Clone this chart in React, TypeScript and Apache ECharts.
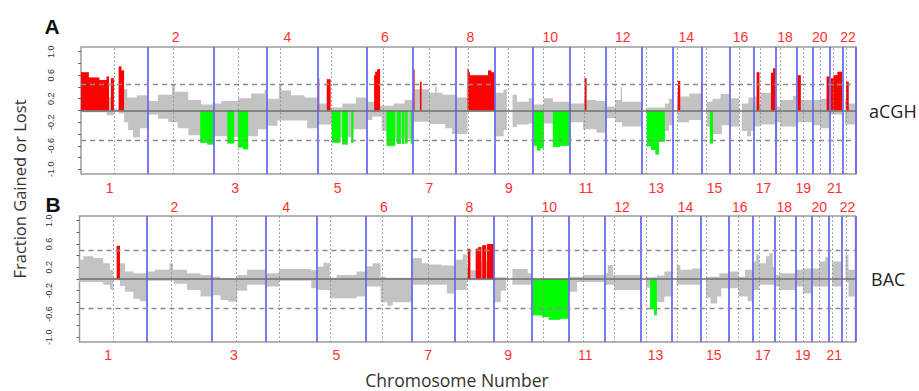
import React, { useEffect, useRef } from "react";
import * as echarts from "echarts";

// ---------- data ----------
const CHROMOSOMES = ["1","2","3","4","5","6","7","8","9","10","11","12","13","14","15","16","17","18","19","20","21","22"];
const CHROM_LENGTH_MB = [249, 243, 198, 191, 181, 171, 159, 146, 141, 136, 135, 134, 115, 107, 103, 90, 81, 78, 59, 63, 48, 51];
const CENTROMERE_MB = [125, 93, 91, 50, 48, 60, 60, 45, 49, 40, 53, 35, 17, 17, 18, 36, 24, 17, 26, 28, 14, 16];

const Y_TICK_VALUES = [-1, -0.8, -0.6, -0.4, -0.2, 0, 0.2, 0.4, 0.6, 0.8, 1];
const Y_LABEL_VALUES = [-1, -0.6, -0.2, 0.2, 0.6, 1];

const PANEL_LETTERS = ["A", "B"];
const PANEL_NAMES = ["aCGH", "BAC"];
const GAIN_THRESHOLD = [0.45, 0.5];
const LOSS_THRESHOLD = [-0.5, -0.5];

// per chromosome: [start (Mb within chromosome), fraction] steps
const GAIN_ACGH = [
  [[0,0.65],[29,0.56],[68,0.52],[95,0.58],[104,0.22],[111,0.55],[122,0.02],[140,0.75],[150,0.68],[160,0.36],[172,0.22],[207,0.26]],
  [[0,0.16],[37,0.27],[89,0.44],[100,0.32],[149,0.18],[197,0.1]],
  [[0,0.12],[30,0.16],[91,0.21],[140,0.29],[190,0.35]],
  [[0,0.2],[45,0.43],[55,0.34],[90,0.26],[140,0.22]],
  [[0,0.55],[4,0.12],[32,0.53],[46,0.05],[90,0.12],[140,0.22]],
  [[0,0.15],[27,0.6],[31,0.66],[38,0.7],[49,0.08],[100,0.12],[140,0.18]],
  [[0,0.7],[6,0.36],[26,0.49],[32,0.36],[60,0.3],[82,0.4],[88,0.3],[110,0.27]],
  [[0,0.22],[44,0.71],[49,0.65],[53,0.6],[120,0.68],[132,0.65]],
  [[0,0.3],[32,0.36],[44,0.01],[65,0.27],[82,0.15],[125,0.21]],
  [[0,0.1],[40,0.21],[74,0.15]],
  [[0,0.12],[53,0.2],[56,0.55],[63,0.18],[100,0.16]],
  [[0,0.07],[35,0.18],[55,0.4],[60,0.15]],
  [[0,0],[18,0.05],[85,0.12],[100,0.2]],
  [[0,0],[17,0.2],[19,0.5],[27,0.24],[60,0.29],[104,0.49]],
  [[0,0],[18,0.15],[40,0.2],[70,0.28]],
  [[0,0.21],[36,0],[46,0.12],[70,0.22]],
  [[0,0.24],[11,0.65],[21,0.1],[25,0.3],[64,0.64],[72,0.72]],
  [[0,0.15],[6,0.07],[17,0.18],[65,0.25]],
  [[0,0.56],[4,0.6],[16,0.18]],
  [[0,0.18],[28,0.2],[53,0.58]],
  [[0,0],[6,0.55],[15,0.6],[30,0.66]],
  [[0,0],[10,0.2],[14,0.49],[24,0.12]],
];
const LOSS_ACGH = [
  [[0,-0.03],[95,-0.08],[122,0],[140,-0.05],[160,-0.2],[175,-0.33],[193,-0.46],[219,-0.3]],
  [[0,-0.07],[37,-0.14],[75,-0.2],[110,-0.3],[150,-0.42],[194,-0.55],[220,-0.58]],
  [[0,-0.44],[52,-0.56],[77,-0.45],[91,-0.63],[110,-0.66],[129,-0.44],[165,-0.32]],
  [[0,-0.26],[40,-0.17],[150,-0.3]],
  [[0,-0.24],[48,-0.3],[51,-0.55],[83,-0.45],[89,-0.58],[110,-0.45],[123,-0.55],[131,-0.32]],
  [[0,-0.16],[20,-0.1],[55,-0.35],[73,-0.6],[105,-0.48],[111,-0.57],[126,-0.48],[130,-0.57],[139,-0.48],[142,-0.56],[151,-0.48],[163,-0.56]],
  [[0,-0.19],[60,-0.23],[120,-0.3],[145,-0.4]],
  [[0,-0.4],[44,-0.02]],
  [[0,-0.44],[32,-0.33],[44,-0.01],[65,-0.28],[82,-0.24],[125,-0.22]],
  [[0,-0.3],[4,-0.6],[15,-0.68],[28,-0.64],[40,-0.22],[74,-0.62],[100,-0.6]],
  [[0,-0.2],[50,-0.32],[100,-0.38]],
  [[0,-0.13],[35,-0.2],[60,-0.27]],
  [[0,0],[18,-0.61],[34,-0.67],[50,-0.75],[63,-0.53],[85,-0.35],[100,-0.25]],
  [[0,0],[17,-0.2],[60,-0.16]],
  [[0,0],[18,-0.27],[30,-0.56],[42,-0.4],[75,-0.25]],
  [[0,-0.27],[36,0],[46,-0.35],[65,-0.44],[80,-0.35]],
  [[0,-0.27],[22,-0.24]],
  [[0,-0.56],[6,-0.2],[17,-0.27]],
  [[0,-0.2]],
  [[0,-0.25],[28,-0.3]],
  [[0,0],[6,-0.07]],
  [[0,0],[10,-0.24]],
];
const GAIN_BAC = [
  [[0,0.33],[14,0.39],[51,0.36],[88,0.27],[113,0.16],[125,0.02],[138,0.57],[150,0.27],[169,0.13],[200,0.1]],
  [[0,0.13],[30,0.16],[85,0.27],[98,0.16],[150,0.1],[200,0.07]],
  [[0,0.04],[31,0.01],[93,0.07],[130,0.16]],
  [[0,0.1],[50,0.17],[170,0.15]],
  [[0,0.21],[24,0.28],[48,0.02],[73,0.07],[147,0.13]],
  [[0,0.22],[25,0.27],[55,0.04],[75,0.02]],
  [[0,0.36],[37,0.27],[62,0.25],[110,0.23]],
  [[0,0.33],[30,0.42],[45,0.2],[49,0.52],[58,0.15],[78,0.52],[88,0.55],[99,0.3],[102,0.58],[117,0.3],[120,0.6]],
  [[0,0.03],[45,0],[68,0.17],[125,0.1]],
  [[0,0.01]],
  [[0,0.04],[53,0.07]],
  [[0,0.1],[10,0.24],[30,0.07]],
  [[0,0],[18,0.03],[58,0.06],[86,0.13]],
  [[0,0],[17,0.24],[30,0.16],[75,0.18]],
  [[0,0],[18,0.04],[68,0.1]],
  [[0,0.13],[36,0.04],[60,0.16]],
  [[0,0.3],[11,0.42],[23,0.27],[48,0.39],[60,0.44],[73,0.2]],
  [[0,0.07],[17,0.1]],
  [[0,0.16],[26,0.18]],
  [[0,0.18],[28,0.3],[50,0.38]],
  [[0,0],[13,0.3]],
  [[0,0],[14,0.42],[25,0.16]],
];
const LOSS_BAC = [
  [[0,-0.05],[88,-0.1],[113,-0.18],[125,-0.02],[150,-0.12],[169,-0.22],[200,-0.34],[224,-0.38]],
  [[0,-0.03],[100,-0.08],[150,-0.19],[200,-0.3]],
  [[0,-0.28],[31,-0.36],[60,-0.39],[93,-0.2],[130,-0.1]],
  [[0,-0.13],[50,-0.03],[170,-0.16]],
  [[0,-0.19],[48,-0.33],[147,-0.3]],
  [[0,-0.13],[55,-0.4],[80,-0.46],[100,-0.4]],
  [[0,-0.1],[130,-0.25]],
  [[0,-0.19],[45,-0.02]],
  [[0,-0.4],[25,-0.2],[45,0],[68,-0.1]],
  [[0,-0.62],[37,-0.65],[62,-0.7],[105,-0.68]],
  [[0,-0.22],[31,-0.05]],
  [[0,-0.1],[35,-0.19]],
  [[0,0],[18,-0.15],[33,-0.52],[48,-0.62],[58,-0.4],[86,-0.3]],
  [[0,0],[17,-0.1]],
  [[0,0],[18,-0.32],[35,-0.42],[60,-0.3],[75,-0.16]],
  [[0,-0.16],[36,-0.3],[70,-0.38]],
  [[0,-0.19],[23,-0.1]],
  [[0,-0.13],[17,-0.19]],
  [[0,-0.13],[26,-0.25]],
  [[0,-0.13]],
  [[0,0],[13,-0.13]],
  [[0,0],[14,-0.05],[25,-0.3]],
];

// ---------- derived ----------
const STARTS: number[] = [];
CHROM_LENGTH_MB.reduce((acc, l) => { STARTS.push(acc); return acc + l; }, 0);
const GENOME_MB = CHROM_LENGTH_MB.reduce((a, b) => a + b, 0);
const ENDS = STARTS.map((s, i) => s + CHROM_LENGTH_MB[i]);
const CENTRO_POS = STARTS.map((s, i) => s + CENTROMERE_MB[i]);
const LABEL_SHIFT_MB = 33;
const LABEL_POS = STARTS.map((s, i) => s + CHROM_LENGTH_MB[i] / 2 - LABEL_SHIFT_MB);

function buildProfile(profile: number[][][]): number[][] {
  const out: number[][] = [];
  profile.forEach((segs, c) => {
    const s = STARTS[c];
    segs.forEach(([p, v]) => out.push([s + p, v]));
    out.push([s + CHROM_LENGTH_MB[c], segs[segs.length - 1][1]]);
  });
  return out;
}

const PROFILES = [
  { gain: buildProfile(GAIN_ACGH), loss: buildProfile(LOSS_ACGH) },
  { gain: buildProfile(GAIN_BAC), loss: buildProfile(LOSS_BAC) },
];

function labelFor(v: number): string {
  let best = 0;
  let bd = Infinity;
  LABEL_POS.forEach((p, i) => {
    const d = Math.abs(p - v);
    if (d < bd) { bd = d; best = i; }
  });
  return CHROMOSOMES[best];
}

export default function App() {
  const ref = useRef<HTMLDivElement>(null);

  useEffect(() => {
    if (!ref.current) return;
    const chart = echarts.init(ref.current, null, { renderer: "svg" });

    const layout = [
      { left: 81, top: 47, width: 775, height: 127, topMargin: 3, bottomMargin: 7 },
      { left: 79.5, top: 216, width: 776, height: 126, topMargin: 2, bottomMargin: 6 },
    ];
    const numFont = "Liberation Sans, Arial, sans-serif";
    const titleFont = "Open Sans, Liberation Sans, sans-serif";

    const grid: any[] = [];
    const xAxis: any[] = [];
    const yAxis: any[] = [];
    const series: any[] = [];

    layout.forEach((L, gi) => {
      grid.push({
        left: L.left, top: L.top, width: L.width, height: L.height,
        show: true, borderColor: "#9c9c9c", borderWidth: 1.5, backgroundColor: "transparent",
      });
      const oddPos = LABEL_POS.filter((_, i) => i % 2 === 0);
      const evenPos = LABEL_POS.filter((_, i) => i % 2 === 1);
      const baseX = {
        gridIndex: gi, type: "value", min: 0, max: GENOME_MB,
        axisLine: { show: false }, axisTick: { show: false }, splitLine: { show: false },
      };
      xAxis.push({
        ...baseX, position: "bottom",
        axisLabel: {
          customValues: oddPos, formatter: (v: number) => labelFor(v),
          color: "#ff3030", fontSize: 14, fontFamily: numFont, align: "left", margin: L.bottomMargin,
        },
      });
      xAxis.push({
        ...baseX, position: "top",
        axisLabel: {
          customValues: evenPos, formatter: (v: number) => labelFor(v),
          color: "#ff3030", fontSize: 14, fontFamily: numFont, align: "left", margin: L.topMargin,
        },
      });
      yAxis.push({
        gridIndex: gi, type: "value", min: -1.08, max: 1.08,
        axisLine: { show: false },
        splitLine: { show: false },
        axisTick: { show: true, length: 3, customValues: Y_TICK_VALUES, lineStyle: { color: "#666", width: 1 } },
        axisLabel: {
          customValues: Y_LABEL_VALUES, rotate: 90, formatter: (v: number) => v.toFixed(1),
          fontSize: 9, color: "#333", fontFamily: numFont, margin: 26,
        },
      });

      const prof = PROFILES[gi];
      const up = GAIN_THRESHOLD[gi];
      const dn = LOSS_THRESHOLD[gi];
      const red = prof.gain.map(([x, v]) => [x, v >= up ? v : 0]);
      const green = prof.loss.map(([x, v]) => [x, v <= dn ? v : 0]);
      const common = {
        type: "line", xAxisIndex: gi * 2, yAxisIndex: gi, step: "end",
        symbol: "none", showSymbol: false, silent: true,
        lineStyle: { width: 0 },
      };
      const markData: any[] = [];
      ENDS.forEach((e) => markData.push({ xAxis: e, lineStyle: { color: "#6b6bf5", width: 1.8, type: "solid" } }));
      CENTRO_POS.forEach((c) => markData.push({ xAxis: c, lineStyle: { color: "#8a8a8a", width: 1, type: [1.5, 2.5] } }));
      markData.push({ yAxis: up, lineStyle: { color: "#8c8c8c", width: 1.3, type: [5, 4] } });
      markData.push({ yAxis: dn, lineStyle: { color: "#8c8c8c", width: 1.3, type: [5, 4] } });
      markData.push({ yAxis: 0, lineStyle: { color: "#6e6e6e", width: 1.6, type: "solid" } });

      series.push({ ...common, name: `gain${gi}`, data: prof.gain, z: 2, areaStyle: { color: "#c3c3c3", opacity: 1 },
        markLine: { silent: true, symbol: ["none", "none"], label: { show: false }, data: markData } });
      series.push({ ...common, name: `loss${gi}`, data: prof.loss, z: 2, areaStyle: { color: "#c3c3c3", opacity: 1 } });
      series.push({ ...common, name: `red${gi}`, data: red, z: 3, areaStyle: { color: "#ff0000", opacity: 1 } });
      series.push({ ...common, name: `green${gi}`, data: green, z: 3, areaStyle: { color: "#00ff00", opacity: 1 } });
    });

    const graphic: any[] = [
      { type: "text", x: 52, y: 26, style: { text: PANEL_LETTERS[0], font: `bold 21px ${numFont}`, fill: "#111", align: "center", verticalAlign: "middle" } },
      { type: "text", x: 53, y: 204, style: { text: PANEL_LETTERS[1], font: `bold 21px ${numFont}`, fill: "#111", align: "center", verticalAlign: "middle" } },
      { type: "text", x: 869, y: 111, style: { text: PANEL_NAMES[0], font: `18px ${titleFont}`, fill: "#222", align: "left", verticalAlign: "middle" } },
      { type: "text", x: 871, y: 279, style: { text: PANEL_NAMES[1], font: `18px ${titleFont}`, fill: "#222", align: "left", verticalAlign: "middle" } },
      { type: "text", x: 19, y: 189, rotation: Math.PI / 2, style: { text: "Fraction Gained or Lost", font: `16.5px ${titleFont}`, fill: "#333", align: "center", verticalAlign: "middle" } },
      { type: "text", x: 457, y: 380, style: { text: "Chromosome Number", font: `17.5px ${titleFont}`, fill: "#333", align: "center", verticalAlign: "middle" } },
    ];

    chart.setOption({
      animation: false,
      backgroundColor: "#ffffff",
      grid, xAxis, yAxis, series, graphic,
    });

    return () => chart.dispose();
  }, []);

  return <div ref={ref} style={{ position: "absolute", left: 0, top: 0, width: 919, height: 391 }} />;
}
